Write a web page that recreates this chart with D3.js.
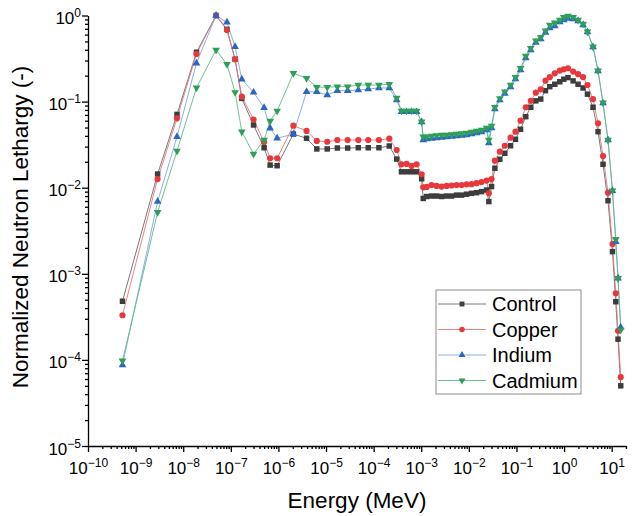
<!DOCTYPE html>
<meta charset="utf-8">
<style>
body { margin: 0; background: #fff; }
text { font-family: "Liberation Sans", Arial, sans-serif; fill: #000; }
.axis path, .axis line { stroke: #000; stroke-width: 1.3; }
</style>
<body>
<svg width="639" height="516"></svg>
<script src="https://d3js.org/d3.v7.min.js"></script>
<script>

// energy bins (MeV), shared by all four runs
var energy = [5.3e-10, 2.9e-9, 7.4e-9, 1.9e-8, 4.9e-8, 8.3e-8, 1.23e-7, 1.7e-7, 3.0e-7, 5.0e-7,
  6.7e-7, 9.4e-7, 2.06e-6, 3.9e-6, 6.4e-6, 1.06e-5, 1.73e-5, 2.85e-5, 4.76e-5, 7.7e-5,
  1.29e-4, 2.13e-4, 3.05e-4, 3.84e-4, 4.93e-4, 6.28e-4, 8.0e-4, 1.02e-3, 1.10e-3, 1.30e-3,
  1.65e-3, 2.10e-3, 2.68e-3, 3.41e-3, 4.35e-3, 5.52e-3, 7.03e-3, 8.95e-3, 1.14e-2, 1.45e-2,
  1.85e-2, 2.36e-2, 2.63e-2, 3.0e-2, 3.52e-2, 4.48e-2, 5.70e-2, 7.52e-2, 9.55e-2, 0.122,
  0.157, 0.200, 0.255, 0.324, 0.407, 0.501, 0.638, 0.813, 0.986, 1.21,
  1.55, 1.97, 2.51, 3.10, 4.06, 5.17, 6.58, 8.38, 10.4, 12.2, 13.6, 15.5];

var control = [4.8e-4, 1.44e-2, 7.1e-2, 0.374, 1.0, 0.691, 0.310, 0.109, 5.35e-2, 2.91e-2,
  1.83e-2, 1.80e-2, 4.2e-2, 3.75e-2, 2.82e-2, 2.82e-2, 2.89e-2, 2.89e-2, 2.91e-2, 2.91e-2,
  2.91e-2, 3.05e-2, 2.15e-2, 1.53e-2, 1.53e-2, 1.53e-2, 1.53e-2, 1.27e-2, 7.5e-3, 7.9e-3,
  8.0e-3, 8.0e-3, 7.9e-3, 8.0e-3, 8.0e-3, 8.2e-3, 8.2e-3, 8.4e-3, 8.6e-3, 8.75e-3,
  9.0e-3, 9.4e-3, 6.9e-3, 1.03e-2, 1.68e-2, 2.14e-2, 2.51e-2, 3.07e-2, 3.65e-2, 4.77e-2,
  6.68e-2, 8.59e-2, 0.102, 0.107, 0.134, 0.149, 0.159, 0.170, 0.182, 0.190,
  0.174, 0.159, 0.144, 0.122, 8.6e-2, 4.47e-2, 1.87e-2, 7.06e-3, 1.81e-3, 4.74e-4, 1.74e-4, 5.0e-5];

var copper = [3.3e-4, 1.26e-2, 6.4e-2, 0.357, 1.0, 0.679, 0.310, 0.114, 6.2e-2, 3.4e-2,
  2.2e-2, 2.2e-2, 5.25e-2, 4.56e-2, 3.49e-2, 3.42e-2, 3.58e-2, 3.58e-2, 3.58e-2, 3.58e-2,
  3.58e-2, 3.71e-2, 2.74e-2, 1.87e-2, 1.89e-2, 1.79e-2, 1.87e-2, 1.43e-2, 1.01e-2, 1.02e-2,
  1.075e-2, 1.05e-2, 1.03e-2, 1.05e-2, 1.06e-2, 1.075e-2, 1.075e-2, 1.095e-2, 1.10e-2, 1.13e-2,
  1.165e-2, 1.21e-2, 8.6e-3, 1.26e-2, 2.06e-2, 2.62e-2, 3.07e-2, 3.81e-2, 4.47e-2, 6.0e-2,
  8.59e-2, 0.102, 0.127, 0.139, 0.175, 0.192, 0.213, 0.229, 0.237, 0.244,
  0.223, 0.208, 0.192, 0.156, 0.107, 5.6e-2, 2.33e-2, 8.75e-3, 2.22e-3, 5.94e-4, 2.18e-4, 6.3e-5];

var indium = [8.7e-5, 6.9e-3, 3.9e-2, 0.279, 1.0, 0.834, 0.434, 0.182, 0.128, 8.5e-2,
  4.9e-2, 3.75e-2, 4.2e-2, 0.130, 0.130, 0.119, 0.134, 0.134, 0.136, 0.140,
  0.144, 0.144, 0.104, 7.6e-2, 7.6e-2, 7.6e-2, 7.6e-2, 5.8e-2, 3.58e-2, 3.68e-2,
  3.73e-2, 3.78e-2, 3.83e-2, 3.88e-2, 3.93e-2, 3.99e-2, 4.04e-2, 4.09e-2, 4.2e-2, 4.32e-2,
  4.44e-2, 4.68e-2, 3.31e-2, 4.93e-2, 8.2e-2, 0.104, 0.124, 0.148, 0.183, 0.233,
  0.321, 0.398, 0.486, 0.533, 0.635, 0.716, 0.755, 0.840, 0.887, 0.923,
  0.911, 0.863, 0.776, 0.643, 0.431, 0.227, 9.6e-2, 3.58e-2, 9.2e-3, 2.36e-3, 8.9e-4, 2.39e-4];

var cadmium = [9.8e-5, 5.2e-3, 2.67e-2, 0.145, 0.398, 0.271, 0.128, 4.47e-2, 2.46e-2, 3.58e-2,
  5.95e-2, 7.8e-2, 0.213, 0.187, 0.147, 0.147, 0.149, 0.149, 0.156, 0.156,
  0.156, 0.159, 0.110, 7.8e-2, 7.8e-2, 7.8e-2, 7.8e-2, 5.84e-2, 3.91e-2, 3.91e-2,
  3.99e-2, 4.04e-2, 4.09e-2, 4.09e-2, 4.15e-2, 4.2e-2, 4.26e-2, 4.32e-2, 4.44e-2, 4.56e-2,
  4.68e-2, 4.93e-2, 3.58e-2, 5.21e-2, 8.59e-2, 0.109, 0.130, 0.156, 0.192, 0.244,
  0.339, 0.416, 0.510, 0.558, 0.666, 0.776, 0.825, 0.887, 0.953, 0.987,
  0.953, 0.887, 0.797, 0.648, 0.434, 0.229, 9.7e-2, 3.58e-2, 9.2e-3, 2.52e-3, 8.9e-4, 2.23e-4];

var seriesNames = ["Control", "Copper", "Indium", "Cadmium"];
var xTickExp = [-10, -9, -8, -7, -6, -5, -4, -3, -2, -1, 0, 1];
var yTickExp = [-5, -4, -3, -2, -1, 0];

var series = [
  {name: seriesNames[0], values: control, color: "#3d3d3d", line: "#6a6a6a", shape: d3.symbolSquare, size: 30, rot: 0},
  {name: seriesNames[1], values: copper, color: "#e8383d", line: "#e9757a", shape: d3.symbolCircle, size: 30, rot: 0},
  {name: seriesNames[2], values: indium, color: "#2b66c4", line: "#7fa7e0", shape: d3.symbolTriangle, size: 26, rot: 0},
  {name: seriesNames[3], values: cadmium, color: "#2e9e5a", line: "#5fb98a", shape: d3.symbolTriangle, size: 26, rot: 180}
];

var svg = d3.select("svg");

var x = d3.scaleLog().domain([1e-10, 20]).range([88, 626]);
var y = d3.scaleLog().domain([1e-5, 1]).range([446, 15.5]);

function sup(e) { return String(e).replace("-", "\u2212"); }

// minor ticks 2..9 per decade
var xMinor = [], yMinor = [];
for (var e = -10; e <= 1; e++) {
  for (var m = 2; m <= 9; m++) {
    var v = m * Math.pow(10, e);
    if (v <= 20) xMinor.push(v);
    if (e < 0 && e >= -5) yMinor.push(v);
  }
}

svg.append("g").attr("class", "axis")
  .attr("transform", "translate(0,446)")
  .call(d3.axisBottom(x).tickValues(xMinor).tickSize(3).tickFormat(""))
  .select(".domain").remove();

var xg = svg.append("g").attr("class", "axis")
  .attr("transform", "translate(0,446)")
  .call(d3.axisBottom(x).tickValues(xTickExp.map(function(e){ return Math.pow(10, e); }))
    .tickSize(6).tickSizeOuter(0).tickFormat(""));

xg.selectAll(".tick").append("text")
  .attr("y", 28)
  .attr("text-anchor", "middle")
  .style("font-size", "17px")
  .each(function(d) {
    var t = d3.select(this);
    t.append("tspan").text("10");
    t.append("tspan").attr("dy", -7).style("font-size", "12px").text(sup(Math.round(Math.log10(d))));
  });

svg.append("g").attr("class", "axis")
  .attr("transform", "translate(88,0)")
  .call(d3.axisLeft(y).tickValues(yMinor).tickSize(3).tickFormat(""))
  .select(".domain").remove();

var yg = svg.append("g").attr("class", "axis")
  .attr("transform", "translate(88,0)")
  .call(d3.axisLeft(y).tickValues(yTickExp.map(function(e){ return Math.pow(10, e); }))
    .tickSize(6).tickSizeOuter(0).tickFormat(""));

yg.selectAll(".tick").append("text")
  .attr("x", -7)
  .attr("y", 8)
  .attr("text-anchor", "end")
  .style("font-size", "17px")
  .each(function(d) {
    var t = d3.select(this);
    t.append("tspan").text("10");
    t.append("tspan").attr("dy", -7).style("font-size", "12px").text(sup(Math.round(Math.log10(d))));
  });

// axis titles
svg.append("text")
  .attr("x", 357).attr("y", 508)
  .attr("text-anchor", "middle")
  .style("font-size", "22.5px")
  .text("Energy (MeV)");

svg.append("text")
  .attr("transform", "translate(28,227) rotate(-90)")
  .attr("text-anchor", "middle")
  .style("font-size", "22.5px")
  .text("Normalized Neutron Lethargy (-)");

var line = d3.line()
  .x(function(d){ return x(d[0]); })
  .y(function(d){ return y(d[1]); });

series.forEach(function(s) {
  var pts = energy.map(function(e, i){ return [e, s.values[i]]; });
  svg.append("path")
    .attr("d", line(pts))
    .attr("fill", "none")
    .attr("stroke", s.line)
    .attr("stroke-width", 0.9);
});

series.forEach(function(s) {
  var pts = energy.map(function(e, i){ return [e, s.values[i]]; });
  var sym = d3.symbol().type(s.shape).size(s.size);
  svg.append("g").selectAll("path")
    .data(pts)
    .enter().append("path")
    .attr("d", sym)
    .attr("fill", s.color)
    .attr("transform", function(d){
      return "translate(" + x(d[0]) + "," + y(d[1]) + ") rotate(" + s.rot + ")";
    });
});

// legend
var lg = svg.append("g").attr("transform", "translate(436,290)");
lg.append("rect")
  .attr("width", 145).attr("height", 104)
  .attr("fill", "#fff").attr("stroke", "#8c8c8c").attr("stroke-width", 1);

series.forEach(function(s, i) {
  var ry = 14 + i * 25.5;
  lg.append("line")
    .attr("x1", 2).attr("x2", 50).attr("y1", ry).attr("y2", ry)
    .attr("stroke", s.line).attr("stroke-width", 0.9);
  lg.append("path")
    .attr("d", d3.symbol().type(s.shape).size(s.size * 0.8))
    .attr("fill", s.color)
    .attr("transform", "translate(26," + ry + ") rotate(" + s.rot + ")");
  lg.append("text")
    .attr("x", 56).attr("y", ry + 7)
    .style("font-size", "20px")
    .text(s.name);
});

</script>
</body>
